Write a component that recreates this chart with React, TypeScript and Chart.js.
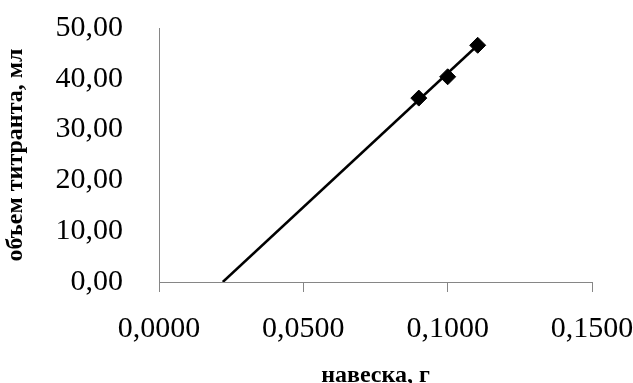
import React, { useEffect, useRef } from "react";
import { Chart, registerables } from "chart.js";

Chart.register(...registerables);

const massX = [0.09, 0.1, 0.1104];
const volumeY = [36.2, 40.4, 46.6];
const trendX = [0.0221, 0.1104];
const trendY = [0, 46.6];
const xTicks = [0, 0.05, 0.1, 0.15];
const yTicks = [0, 10, 20, 30, 40, 50];
const xTitle = "навеска, г";
const yTitle = "объем титранта, мл";

const FONT = "'Liberation Serif', 'Times New Roman', serif";
const AXIS = "#868686";

const zeroPad = (s: any) => {
  s.paddingTop = 0;
  s.paddingBottom = 0;
  s.paddingLeft = 0;
  s.paddingRight = 0;
};

export default function App() {
  const ref = useRef<HTMLCanvasElement | null>(null);
  useEffect(() => {
    if (!ref.current) return;
    const chart = new Chart(ref.current, {
      type: "scatter",
      data: {
        datasets: [
          {
            label: "trend",
            data: trendX.map((x, i) => ({ x, y: trendY[i] })),
            showLine: true,
            borderColor: "#000",
            borderWidth: 2.5,
            pointRadius: 0,
            order: 2,
          },
          {
            label: "points",
            data: massX.map((x, i) => ({ x, y: volumeY[i] })),
            pointStyle: "rectRot",
            pointRadius: 8,
            backgroundColor: "#000",
            borderColor: "#000",
            borderWidth: 1,
            order: 1,
          },
        ],
      },
      options: {
        responsive: false,
        animation: false,
        layout: { autoPadding: false, padding: { top: 28, right: 41, bottom: 0, left: 0 } },
        plugins: { legend: { display: false }, tooltip: { enabled: false } },
        scales: {
          x: {
            type: "linear",
            min: 0,
            max: 0.15,
            afterBuildTicks: (s: any) => {
              s.ticks = xTicks.map((v) => ({ value: v }));
            },
            afterFit: (s: any) => {
              s.height = 101;
              zeroPad(s);
            },
            ticks: {
              color: "#000",
              font: { family: FONT, size: 30 },
              padding: 19,
              maxRotation: 0,
              callback: (v: any) => Number(v).toFixed(4).replace(".", ","),
            },
            grid: {
              drawOnChartArea: false,
              drawTicks: true,
              tickLength: 10,
              color: AXIS,
            },
            border: { display: true, color: AXIS, width: 1 },
            title: {
              display: true,
              text: xTitle,
              color: "#000",
              font: { family: FONT, size: 24, weight: "bold", lineHeight: 0.6 },
              padding: 0,
            },
          },
          y: {
            type: "linear",
            min: 0,
            max: 50,
            afterBuildTicks: (s: any) => {
              s.ticks = yTicks.map((v) => ({ value: v }));
            },
            afterFit: (s: any) => {
              s.width = 159;
              zeroPad(s);
            },
            ticks: {
              color: "#000",
              font: { family: FONT, size: 30 },
              padding: 36,
              callback: (v: any) => Number(v).toFixed(2).replace(".", ","),
            },
            grid: {
              drawOnChartArea: false,
              drawTicks: false,
              color: AXIS,
            },
            border: { display: true, color: AXIS, width: 1 },
            title: {
              display: true,
              text: yTitle,
              color: "#000",
              font: { family: FONT, size: 24, weight: "bold", lineHeight: 1.2 },
              padding: { top: 1, bottom: 0 },
            },
          },
        },
      },
    });
    return () => chart.destroy();
  }, []);
  return (
    <div style={{ position: "absolute", left: 0, top: 0, width: 633, height: 383, background: "#fff" }}>
      <canvas ref={ref} width={633} height={383} />
    </div>
  );
}
